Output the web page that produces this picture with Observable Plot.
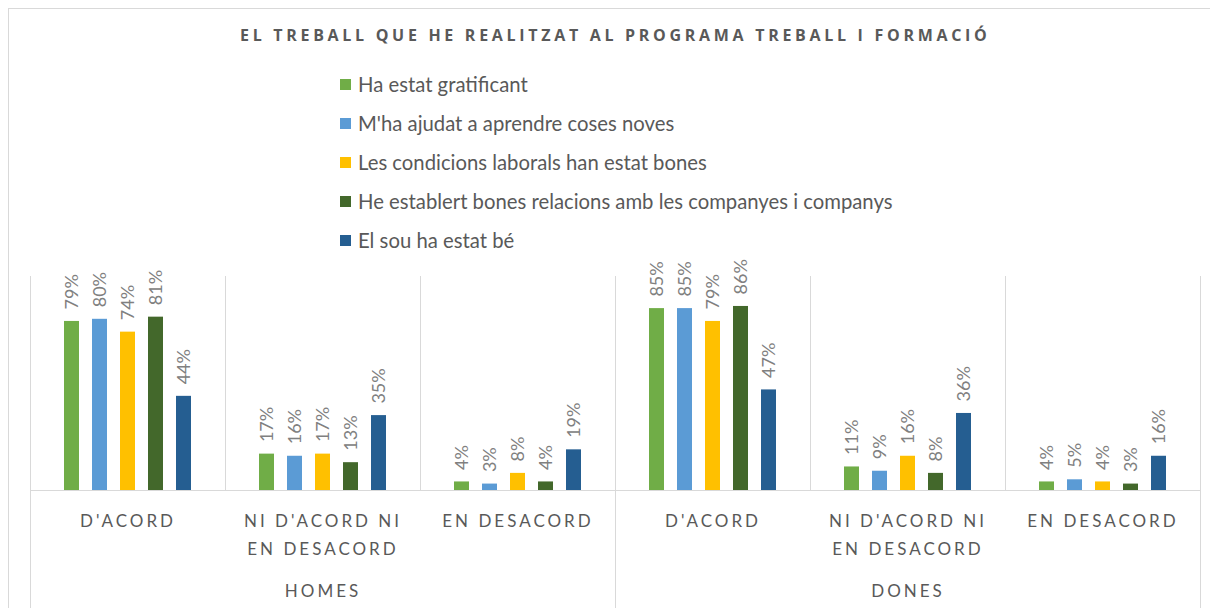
<!DOCTYPE html>
<html>
<head>
<meta charset="utf-8">
<script src="https://cdn.jsdelivr.net/npm/d3@7"></script>
<script src="https://cdn.jsdelivr.net/npm/@observablehq/plot@0.6"></script>
<style>
  html, body { margin: 0; padding: 0; background: #fff; }
  body { width: 1210px; height: 608px; overflow: hidden; position: relative; font-family: Lato, "Open Sans", sans-serif; }
  #border { position: absolute; left: 8px; top: 8px; width: 1300px; height: 800px; border: 1px solid #d9d9d9; box-sizing: border-box; }
  #title { position: absolute; left: 240px; top: 24px; white-space: nowrap; font-weight: bold; font-size: 16px; letter-spacing: 3.7px; color: #595959; font-family: "Open Sans", sans-serif; }
  #legend { position: absolute; left: 340px; top: 71px; }
  .item { height: 39px; display: flex; align-items: flex-start; font-size: 20.3px; color: #595959; line-height: 26px; }
  .sw { width: 11px; height: 11px; margin-right: 7px; margin-top: 8px; flex: none; }
  #chart { position: absolute; left: 0; top: 240px; }
</style>
</head>
<body>
<div id="border"></div>
<div id="title"></div>
<div id="legend"></div>
<div id="chart"></div>
<script>
const title = "EL TREBALL QUE HE REALITZAT AL PROGRAMA TREBALL I FORMACIÓ";
const groups = ["HOMES", "DONES"];
const categories = ["D'ACORD", "NI D'ACORD NI EN DESACORD", "EN DESACORD"];
const categoryLabels = ["D'ACORD", "NI D'ACORD NI\nEN DESACORD", "EN DESACORD"];
const series = [
  "Ha estat gratificant",
  "M'ha ajudat a aprendre coses noves",
  "Les condicions laborals han estat bones",
  "He establert bones relacions amb les companyes i companys",
  "El sou ha estat bé"
];
const colors = ["#70ad47", "#5b9bd5", "#ffc000", "#43682b", "#255e91"];

const homesAcord = [0.79, 0.80, 0.74, 0.81, 0.44];
const homesNi = [0.17, 0.16, 0.17, 0.13, 0.35];
const homesDesacord = [0.04, 0.03, 0.08, 0.04, 0.19];
const donesAcord = [0.85, 0.85, 0.79, 0.86, 0.47];
const donesNi = [0.11, 0.09, 0.16, 0.08, 0.36];
const donesDesacord = [0.04, 0.05, 0.04, 0.03, 0.16];

const valuesByGroup = {
  HOMES: [homesAcord, homesNi, homesDesacord],
  DONES: [donesAcord, donesNi, donesDesacord]
};

const key = (g, c) => g + "|" + c;
const facetDomain = groups.flatMap(g => categories.map(c => key(g, c)));

const data = [];
for (const g of groups) {
  categories.forEach((c, ci) => {
    series.forEach((s, si) => {
      data.push({group: g, category: c, key: key(g, c), series: s, value: valuesByGroup[g][ci][si]});
    });
  });
}
const catRows = groups.flatMap(g => categories.map((c, ci) => ({key: key(g, c), label: categoryLabels[ci]})));
const groupRows = groups.map(g => ({key: key(g, categories[1]), label: g}));

document.getElementById("title").textContent = title;
const legend = document.getElementById("legend");
series.forEach((s, i) => {
  const row = document.createElement("div");
  row.className = "item";
  const sw = document.createElement("span");
  sw.className = "sw";
  sw.style.background = colors[i];
  const t = document.createElement("span");
  t.textContent = s;
  row.appendChild(sw);
  row.appendChild(t);
  legend.appendChild(row);
});

const lineColor = "#d9d9d9";
const first = facetDomain[0];
const mid = facetDomain[3];
const last = facetDomain[5];

const spaced = (index, scales, values, dimensions, context, next) => {
  const g = next(index, scales, values, dimensions, context);
  if (g) g.setAttribute("letter-spacing", "3");
  return g;
};

const chart = Plot.plot({
  width: 1210,
  height: 368,
  marginTop: 36,
  marginBottom: 118,
  marginLeft: 28,
  marginRight: 8,
  style: {fontFamily: "Lato, 'Open Sans', sans-serif", background: "transparent", overflow: "visible"},
  fx: {domain: facetDomain, padding: 0, axis: null},
  x: {domain: series, paddingInner: 0.47, paddingOuter: 1.16, axis: null},
  y: {domain: [0, 1], axis: null},
  color: {domain: series, range: colors},
  marks: [
    Plot.frame({anchor: "left", stroke: lineColor}),
    Plot.frame({anchor: "left", stroke: lineColor, fx: first, insetBottom: -118}),
    Plot.frame({anchor: "left", stroke: lineColor, fx: mid, insetBottom: -118}),
    Plot.frame({anchor: "right", stroke: lineColor, fx: last, insetBottom: -118}),
    Plot.ruleY([0], {stroke: lineColor}),
    Plot.barY(data, {fx: "key", x: "series", y: "value", fill: "series"}),
    Plot.text(data, {
      fx: "key", x: "series", y: "value",
      text: d => Math.round(d.value * 100) + "%",
      rotate: -90, textAnchor: "start", lineAnchor: "middle",
      dy: -12, fill: "#808080", fontSize: 18
    }),
    Plot.text(catRows, {
      fx: "key", text: "label", frameAnchor: "bottom", lineAnchor: "top",
      dy: 17, lineHeight: 1.65, fill: "#595959", fontSize: 17, render: spaced
    }),
    Plot.text(groupRows, {
      fx: "key", text: "label", frameAnchor: "bottom", lineAnchor: "top",
      dy: 94, fill: "#595959", fontSize: 17, render: spaced
    })
  ]
});
document.getElementById("chart").appendChild(chart);
</script>
</body>
</html>
